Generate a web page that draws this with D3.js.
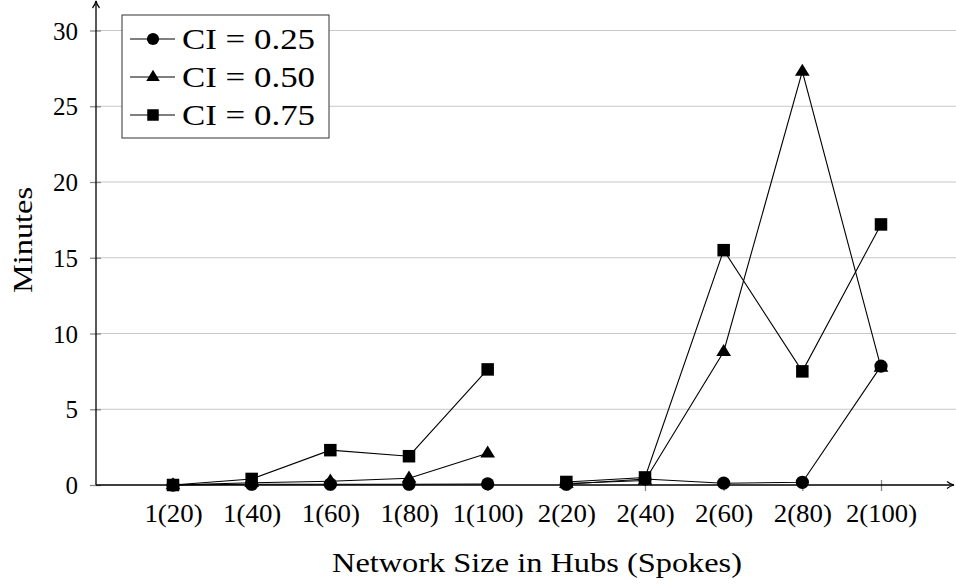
<!DOCTYPE html>
<html>
<head>
<meta charset="utf-8">
<script src="https://cdn.jsdelivr.net/npm/d3@7"></script>
<style>
  body { margin: 0; background: #fff; }
  text { font-family: "Liberation Serif", "DejaVu Serif", serif; fill: #000; }
</style>
</head>
<body>
<svg id="chart" width="956" height="585"></svg>
<script>
// Data
const categories = ["1(20)", "1(40)", "1(60)", "1(80)", "1(100)",
                    "2(20)", "2(40)", "2(60)", "2(80)", "2(100)"];
const groups = [1, 1, 1, 1, 1, 2, 2, 2, 2, 2];
const ci25 = [0.0, 0.05, 0.05, 0.05, 0.07, 0.05, 0.4, 0.12, 0.18, 7.85];
const ci50 = [0.0, 0.15, 0.25, 0.45, 2.1, 0.1, 0.3, 8.8, 27.3, 7.75];
const ci75 = [0.0, 0.4, 2.3, 1.9, 7.63, 0.2, 0.5, 15.5, 7.5, 17.2];
const yTicks = [0, 5, 10, 15, 20, 25, 30];

const series = [
  { label: "CI = 0.25", values: ci25, marker: "circle" },
  { label: "CI = 0.50", values: ci50, marker: "triangle" },
  { label: "CI = 0.75", values: ci75, marker: "square" }
];

const svg = d3.select("#chart");

const axisX0 = 96, axisX1 = 954, axisY = 485;

const x = d3.scalePoint().domain(categories).range([173, 881]);
const y = d3.scaleLinear().domain([0, 30]).range([485, 30.5]);

// Grid
svg.append("g")
  .selectAll("line")
  .data(yTicks.filter(d => d > 0))
  .enter()
  .append("line")
  .attr("x1", axisX0)
  .attr("x2", 956)
  .attr("y1", d => y(d))
  .attr("y2", d => y(d))
  .attr("stroke", "#c8c8c8")
  .attr("stroke-width", 1);

// Y axis ticks + labels
const yAxis = d3.axisLeft(y).tickValues(yTicks).tickSize(0).tickPadding(18);
const gy = svg.append("g").attr("transform", `translate(${axisX0},0)`).call(yAxis);
gy.select(".domain").remove();
gy.attr("font-size", null).attr("font-family", null);
gy.selectAll("text")
  .attr("font-size", 25)
  .attr("dy", "0.34em");
gy.selectAll(".tick").append("line")
  .attr("x1", -6).attr("x2", 5)
  .attr("stroke", "#888").attr("stroke-width", 1.3);

// X axis ticks + labels
const xAxis = d3.axisBottom(x).tickSize(0).tickPadding(0);
const gx = svg.append("g").attr("transform", `translate(0,${axisY})`).call(xAxis);
gx.select(".domain").remove();
gx.attr("font-size", null).attr("font-family", null);
gx.selectAll("text")
  .attr("font-size", 25)
  .attr("y", 37)
  .attr("dy", null)
  .attr("textLength", d => d.replace(/[()]/g, "").length * 12.75 + 20)
  .attr("lengthAdjust", "spacingAndGlyphs");
gx.selectAll(".tick").append("line")
  .attr("y1", -5).attr("y2", 6)
  .attr("stroke", "#888").attr("stroke-width", 1.3);

// Axis lines with arrows
svg.append("defs").append("marker")
  .attr("id", "arrow")
  .attr("viewBox", "0 0 10 10")
  .attr("refX", 9).attr("refY", 5)
  .attr("markerWidth", 10).attr("markerHeight", 10)
  .attr("markerUnits", "userSpaceOnUse")
  .attr("orient", "auto")
  .append("path")
  .attr("d", "M2,1.5 Q5,4 9,5 Q5,6 2,8.5")
  .attr("fill", "none")
  .attr("stroke", "#000")
  .attr("stroke-width", 1.2);

svg.append("line")
  .attr("x1", axisX0).attr("x2", axisX1)
  .attr("y1", axisY).attr("y2", axisY)
  .attr("stroke", "#000").attr("stroke-width", 1.3)
  .attr("marker-end", "url(#arrow)");
svg.append("line")
  .attr("x1", axisX0).attr("x2", axisX0)
  .attr("y1", axisY).attr("y2", 1)
  .attr("stroke", "#000").attr("stroke-width", 1.3)
  .attr("marker-end", "url(#arrow)");

// Marker drawing
function drawMarker(sel, type, size) {
  if (type === "circle") {
    sel.append("circle").attr("r", size * 0.53).attr("fill", "#000");
  } else if (type === "square") {
    sel.append("rect")
      .attr("x", -size * 0.5).attr("y", -size * 0.5)
      .attr("width", size).attr("height", size)
      .attr("fill", "#000");
  } else {
    const s = size * 0.62;
    sel.append("path")
      .attr("d", `M0,${-s} L${s * 0.95},${s * 0.55} L${-s * 0.95},${s * 0.55} Z`)
      .attr("fill", "#000");
  }
}

// Lines (separate per group)
const line = d3.line()
  .x(d => x(d.cat))
  .y(d => y(d.v));

series.forEach(s => {
  const pts = categories.map((c, i) => ({ cat: c, v: s.values[i], g: groups[i] }));
  [1, 2].forEach(g => {
    svg.append("path")
      .datum(pts.filter(p => p.g === g))
      .attr("d", line)
      .attr("fill", "none")
      .attr("stroke", "#000")
      .attr("stroke-width", 1.1);
  });
  svg.append("g")
    .selectAll("g")
    .data(pts)
    .enter()
    .append("g")
    .attr("transform", d => `translate(${x(d.cat)},${y(d.v)})`)
    .each(function () { drawMarker(d3.select(this), s.marker, 12.5); });
});

// Axis titles
svg.append("text")
  .attr("x", 537).attr("y", 572)
  .attr("text-anchor", "middle")
  .attr("font-size", 28)
  .attr("textLength", 410)
  .attr("lengthAdjust", "spacingAndGlyphs")
  .text("Network Size in Hubs (Spokes)");

svg.append("text")
  .attr("transform", "translate(32,240) rotate(-90)")
  .attr("text-anchor", "middle")
  .attr("font-size", 28)
  .attr("textLength", 106)
  .attr("lengthAdjust", "spacingAndGlyphs")
  .text("Minutes");

// Legend
const legend = svg.append("g");
legend.append("rect")
  .attr("x", 122).attr("y", 15)
  .attr("width", 207).attr("height", 123)
  .attr("fill", "#fff")
  .attr("stroke", "#333")
  .attr("stroke-width", 1);

series.forEach((s, i) => {
  const ly = 39 + i * 38;
  const row = legend.append("g").attr("transform", `translate(0,${ly})`);
  row.append("line")
    .attr("x1", 130).attr("x2", 175)
    .attr("stroke", "#000").attr("stroke-width", 1.1);
  const m = row.append("g").attr("transform", "translate(153,0)");
  drawMarker(m, s.marker, 11.5);
  row.append("text")
    .attr("x", 182).attr("y", 9.5)
    .attr("font-size", 30)
    .attr("textLength", 133)
    .attr("lengthAdjust", "spacingAndGlyphs")
    .text(s.label);
});
</script>
</body>
</html>
